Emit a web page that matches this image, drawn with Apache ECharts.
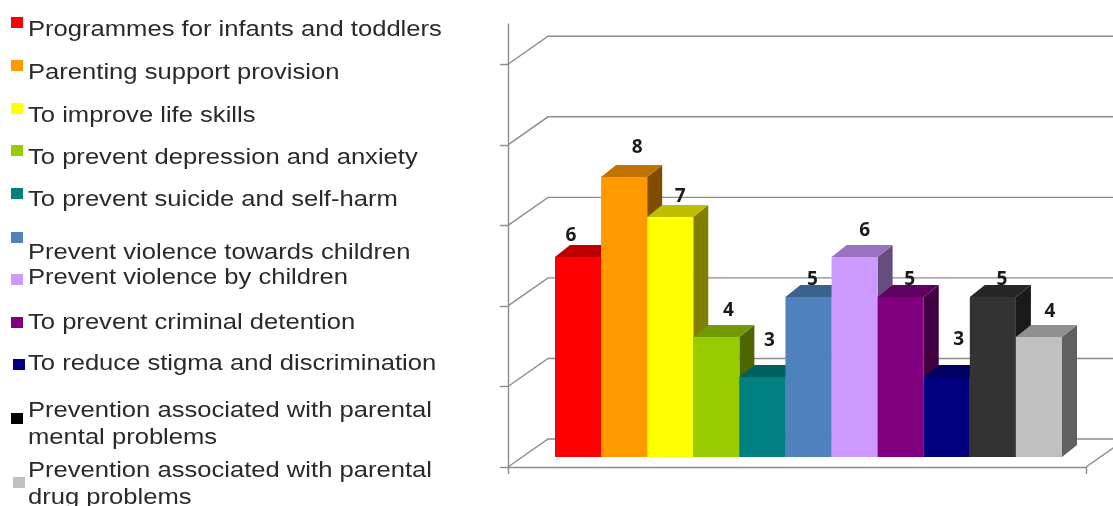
<!DOCTYPE html>
<html>
<head>
<meta charset="utf-8">
<style>
  html, body { margin: 0; padding: 0; background: #fff; overflow: hidden; }
  #chart { width: 1113px; height: 506px; }
</style>
</head>
<body>
<div id="chart"></div>
<script src="https://cdn.jsdelivr.net/npm/echarts@6/dist/echarts.min.js"></script>
<script>
// chart data
const categories = [
  'Programmes for infants and toddlers',
  'Parenting support provision',
  'To improve life skills',
  'To prevent depression and anxiety',
  'To prevent suicide and self-harm',
  'Prevent violence towards children',
  'Prevent violence by children',
  'To prevent criminal detention',
  'To reduce stigma and discrimination',
  'Prevention associated with parental\nmental problems',
  'Prevention associated with parental\ndrug problems'
];
const values = [6, 8, 7, 4, 3, 5, 6, 5, 3, 5, 4];
const barColors = ['#ff0000', '#ff9900', '#ffff00', '#99cc00', '#008080', '#4f81bd', '#cc99ff', '#800080', '#000080', '#333333', '#c0c0c0'];
const legendColors = ['#ff0000', '#ff9900', '#ffff00', '#99cc00', '#008080', '#4f81bd', '#cc99ff', '#800080', '#000080', '#000000', '#c0c0c0'];
const wallTicks = [1, 3, 5, 7, 9, 11];

// layout of the hand placed legend and value labels
const legendSwatchY = [17, 60, 103, 145, 188, 232, 274, 317, 359, 413, 477];
const legendSwatchX = [11, 11, 11, 11, 11, 11, 11, 11, 13, 11, 13];
const legendTextY = [29, 72, 115, 157, 199, 252, 277, 322, 363, 410, 470];
const labelOffsets = [[-7, -21], [13, -29], [10, -20], [12, -26], [7, -36], [4, -17], [10, -26], [9, -17], [12, -37], [9, -17], [11, -25]];

const AXIS_MIN = 1;
const AXIS_MAX = 12;
const LINE_COLOR = '#8c8c8c';
const LINE_WIDTH = 1.4;
const DEPTH_X = 15;
const DEPTH_Y = 12;
const WALL_X = 40;
const WALL_Y = 28;
// the legend text in the picture is stretched sideways
const LEGEND_STRETCH = 1.163;

function shade(hex, k) {
  const n = parseInt(hex.slice(1), 16);
  const c = [n >> 16, (n >> 8) & 255, n & 255].map(v => Math.round(v * k));
  return `rgb(${c.join(',')})`;
}

// back wall lines, running from the front axis to the wall and on to the right
function renderWall(params, api) {
  const front = api.coord([0, api.value(1)]);
  const children = [{
    type: 'polyline',
    shape: { points: [front, [front[0] + WALL_X, front[1] - WALL_Y], [front[0] + 700, front[1] - WALL_Y]] },
    style: { stroke: LINE_COLOR, lineWidth: LINE_WIDTH, fill: null }
  }];
  if (api.value(1) === AXIS_MIN) {
    const end = api.coord([1, AXIS_MIN]);
    children.push({
      type: 'line',
      shape: { x1: end[0], y1: end[1], x2: end[0] + WALL_X, y2: end[1] - WALL_Y },
      style: { stroke: LINE_COLOR, lineWidth: LINE_WIDTH }
    });
  }
  return { type: 'group', children };
}

function renderBar(params, api) {
  const i = api.value(0);
  const val = api.value(1);
  const top = api.coord([i, val]);
  const base = api.coord([i, AXIS_MIN]);
  const w = api.size([1, 0])[0];
  const x0 = top[0] - w / 2;
  const x1 = top[0] + w / 2;
  const color = barColors[i];
  return {
    type: 'group',
    children: [
      {
        type: 'polygon',
        shape: { points: [[x1, top[1]], [x1 + DEPTH_X, top[1] - DEPTH_Y], [x1 + DEPTH_X, base[1] - DEPTH_Y], [x1, base[1]]] },
        style: { fill: shade(color, 0.5) }
      },
      {
        type: 'polygon',
        shape: { points: [[x0, top[1]], [x0 + DEPTH_X, top[1] - DEPTH_Y], [x1 + DEPTH_X, top[1] - DEPTH_Y], [x1, top[1]]] },
        style: { fill: shade(color, 0.75) }
      },
      {
        type: 'rect',
        shape: { x: x0, y: top[1], width: w, height: base[1] - top[1] },
        style: { fill: color }
      }
    ]
  };
}

function renderLabel(params, api) {
  const i = api.value(0);
  const top = api.coord([i, api.value(1)]);
  const off = labelOffsets[i];
  return {
    type: 'text',
    style: {
      text: String(api.value(1)),
      x: top[0] + off[0],
      y: top[1] + off[1],
      align: 'center',
      verticalAlign: 'middle',
      font: 'bold 19px "Open Sans", sans-serif',
      fill: '#1a1a1a'
    }
  };
}

const legendGraphics = [];
categories.forEach((name, i) => {
  legendGraphics.push({
    type: 'rect',
    x: legendSwatchX[i],
    y: legendSwatchY[i],
    shape: { width: 12, height: 11 },
    style: { fill: legendColors[i] }
  });
  legendGraphics.push({
    type: 'text',
    x: 28,
    y: legendTextY[i] - 13,
    scaleX: LEGEND_STRETCH,
    style: {
      text: name,
      font: '22px "Liberation Sans", sans-serif',
      fill: '#2a2a2a',
      lineHeight: 27
    }
  });
});

const chart = echarts.init(document.getElementById('chart'), null, { renderer: 'canvas' });
chart.setOption({
  animation: false,
  backgroundColor: '#ffffff',
  grid: [
    { left: 508, right: 27, top: 24, bottom: 39 },
    { left: 555, right: 51, top: 17, bottom: 49 }
  ],
  xAxis: [
    {
      type: 'value', gridIndex: 0, min: 0, max: 1, interval: 1,
      axisLine: { show: true, lineStyle: { color: LINE_COLOR, width: LINE_WIDTH } },
      axisTick: { show: true, length: 7, lineStyle: { color: LINE_COLOR, width: LINE_WIDTH } },
      axisLabel: { show: false },
      splitLine: { show: false }
    },
    { type: 'category', gridIndex: 1, data: categories, show: false }
  ],
  yAxis: [
    {
      type: 'value', gridIndex: 0, min: AXIS_MIN, max: AXIS_MAX, interval: 1,
      axisLine: { show: true, onZero: false, lineStyle: { color: LINE_COLOR, width: LINE_WIDTH } },
      axisTick: { show: true, length: 8, customValues: wallTicks, lineStyle: { color: LINE_COLOR, width: LINE_WIDTH } },
      axisLabel: { show: false },
      splitLine: { show: false }
    },
    { type: 'value', gridIndex: 1, min: AXIS_MIN, max: AXIS_MAX, interval: 1, show: false }
  ],
  series: [
    {
      type: 'custom', xAxisIndex: 0, yAxisIndex: 0, z: 1, silent: true,
      renderItem: renderWall,
      data: wallTicks.map(v => [0, v])
    },
    {
      type: 'custom', xAxisIndex: 1, yAxisIndex: 1, z: 2, silent: true,
      renderItem: renderBar,
      data: values.map((v, i) => [i, v])
    },
    {
      type: 'custom', xAxisIndex: 1, yAxisIndex: 1, z: 3, silent: true,
      renderItem: renderLabel,
      data: values.map((v, i) => [i, v])
    }
  ],
  graphic: { elements: legendGraphics }
});
</script>
</body>
</html>
